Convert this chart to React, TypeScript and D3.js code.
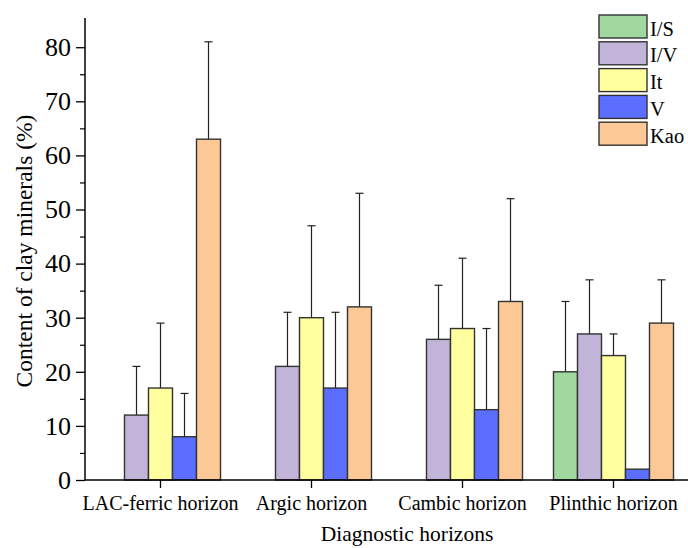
import React, { useEffect, useRef } from 'react';
import * as d3 from 'd3';

const horizons = ['LAC-ferric horizon', 'Argic horizon', 'Cambic horizon', 'Plinthic horizon'];
const minerals = ['I/S', 'I/V', 'It', 'V', 'Kao'];
const colors = ['#a0d8a0', '#c2b3d8', '#ffffa0', '#5b6eff', '#fcc896'];

// mean values per mineral, ordered like horizons
const meanIS = [0, 0, 0, 20];
const meanIV = [12, 21, 26, 27];
const meanIt = [17, 30, 28, 23];
const meanV = [8, 17, 13, 2];
const meanKao = [63, 32, 33, 29];

// top of the error bar (mean + sd)
const upperIS = [0, 0, 0, 33];
const upperIV = [21, 31, 36, 37];
const upperIt = [29, 47, 41, 27];
const upperV = [16, 31, 28, 2];
const upperKao = [81, 53, 52, 37];

const yTicks = [0, 10, 20, 30, 40, 50, 60, 70, 80];

const App: React.FC = () => {
  const svgRef = useRef<SVGSVGElement>(null);

  useEffect(() => {
    if (!svgRef.current) return;
    const svg = d3.select(svgRef.current);
    svg.selectAll('*').remove();

    const means = [meanIS, meanIV, meanIt, meanV, meanKao];
    const uppers = [upperIS, upperIV, upperIt, upperV, upperKao];

    const left = 85;
    const right = 689;
    const top = 18;
    const bottom = 480;

    const x = d3.scaleBand<string>().domain(horizons).range([left, right]);
    const xInner = d3.scaleBand<string>().domain(minerals).range([0, 120]);
    const y = d3.scaleLinear().domain([0, 85.4]).range([bottom, top]);

    const font = 'Liberation Serif, Times New Roman, serif';

    // bars
    horizons.forEach((h, hi) => {
      const g = svg.append('g')
        .attr('transform', `translate(${(x(h) || 0) + x.bandwidth() / 2 - 60},0)`);
      minerals.forEach((m, mi) => {
        const v = means[mi][hi];
        if (v <= 0) return;
        const bx = xInner(m) || 0;
        const bw = xInner.bandwidth();
        const up = uppers[mi][hi];
        if (up > v) {
          const cx = bx + bw / 2;
          g.append('line')
            .attr('x1', cx).attr('x2', cx)
            .attr('y1', y(v)).attr('y2', y(up))
            .attr('stroke', '#222').attr('stroke-width', 1.2);
          g.append('line')
            .attr('x1', cx - 4).attr('x2', cx + 4)
            .attr('y1', y(up)).attr('y2', y(up))
            .attr('stroke', '#222').attr('stroke-width', 1.2);
        }
        g.append('rect')
          .attr('x', bx)
          .attr('y', y(v))
          .attr('width', bw)
          .attr('height', bottom - y(v))
          .attr('fill', colors[mi])
          .attr('stroke', '#333')
          .attr('stroke-width', 1.4);
      });
    });

    // y axis
    const yAxis = svg.append('g')
      .attr('transform', `translate(${left},0)`)
      .call(d3.axisLeft(y).tickValues(yTicks).tickSize(9).tickPadding(5).tickFormat(d3.format('d')));
    yAxis.attr('font-family', font);
    yAxis.select('.domain').attr('d', `M0,${bottom}V${top}`).attr('stroke', '#000').attr('stroke-width', 1.5);
    yAxis.selectAll('.tick line').attr('stroke', '#000').attr('stroke-width', 1.3);
    yAxis.selectAll('.tick text')
      .style('font-family', font).attr('font-size', 26).attr('fill', '#000');
    svg.append('g')
      .attr('transform', `translate(${left},0)`)
      .call(d3.axisLeft(y).tickValues(d3.range(5, 85, 10)).tickSize(5).tickFormat(() => ''))
      .call(s => s.select('.domain').remove())
      .selectAll('.tick line').attr('stroke', '#000').attr('stroke-width', 1.2);

    // x axis
    const xAxis = svg.append('g')
      .attr('transform', `translate(0,${bottom})`)
      .call(d3.axisBottom(x).tickSize(8).tickPadding(8));
    xAxis.attr('font-family', font);
    xAxis.select('.domain').attr('d', `M${left},0H${right}`).attr('stroke', '#000').attr('stroke-width', 1.5);
    xAxis.selectAll('.tick line').attr('stroke', '#000').attr('stroke-width', 1.3);
    xAxis.selectAll('.tick text')
      .style('font-family', font).attr('font-size', 20).attr('fill', '#000');

    // axis titles
    svg.append('text')
      .attr('transform', `translate(32,${251}) rotate(-90)`)
      .attr('text-anchor', 'middle')
      .style('font-family', font).attr('font-size', 23.5)
      .text('Content of clay minerals (%)');
    svg.append('text')
      .attr('x', 407).attr('y', 541)
      .attr('text-anchor', 'middle')
      .style('font-family', font).attr('font-size', 21.5)
      .text('Diagnostic horizons');

    // legend
    const legend = svg.append('g').attr('transform', 'translate(599,15)');
    minerals.forEach((m, i) => {
      const row = legend.append('g').attr('transform', `translate(0,${i * 26.8})`);
      row.append('rect')
        .attr('width', 48).attr('height', 23)
        .attr('fill', colors[i]).attr('stroke', '#333').attr('stroke-width', 1.4);
      row.append('text')
        .attr('x', 51).attr('y', 20.5)
        .style('font-family', font).attr('font-size', 20.5)
        .text(m);
    });
  }, []);

  return (
    <svg ref={svgRef} width={688} height={548} style={{ position: 'absolute', left: 0, top: 0, background: '#fff' }} />
  );
};

export default App;
